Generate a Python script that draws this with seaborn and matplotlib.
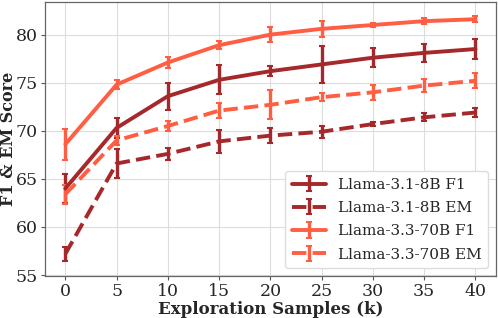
import matplotlib
matplotlib.use("Agg")
import matplotlib.pyplot as plt
import seaborn as sns

samples = [0, 5, 10, 15, 20, 25, 30, 35, 40]

f1_8b = [64.0, 70.3, 73.6, 75.3, 76.2, 76.9, 77.6, 78.1, 78.5]
f1_8b_err = [1.5, 1.0, 1.4, 1.5, 0.5, 1.9, 1.0, 0.9, 1.0]
em_8b = [57.2, 66.6, 67.6, 68.9, 69.5, 69.9, 70.7, 71.4, 71.9]
em_8b_err = [0.7, 1.5, 0.6, 1.2, 0.8, 0.6, 0.2, 0.4, 0.5]
f1_70b = [68.6, 74.8, 77.1, 78.9, 80.0, 80.6, 81.0, 81.4, 81.6]
f1_70b_err = [1.6, 0.5, 0.6, 0.4, 0.8, 0.8, 0.2, 0.3, 0.3]
em_70b = [63.4, 69.0, 70.5, 72.1, 72.7, 73.5, 74.0, 74.7, 75.2]
em_70b_err = [1.0, 0.5, 0.5, 0.8, 1.5, 0.4, 0.8, 0.7, 0.8]

series = [
    ("Llama-3.1-8B F1", f1_8b, f1_8b_err, "#a5282b", "-"),
    ("Llama-3.1-8B EM", em_8b, em_8b_err, "#a5282b", "--"),
    ("Llama-3.3-70B F1", f1_70b, f1_70b_err, "#ff5e43", "-"),
    ("Llama-3.3-70B EM", em_70b, em_70b_err, "#ff5e43", "--"),
]

sns.set_theme(style="whitegrid")
plt.rcParams["font.family"] = ["DejaVu Serif"]

fig, ax = plt.subplots(figsize=(4.98, 3.18), dpi=100)
for label, vals, errs, color, ls in series:
    ax.errorbar(samples, vals, yerr=errs, label=label, color=color, linestyle=ls,
                linewidth=2.8, elinewidth=2.4, capsize=2.5, capthick=1.5)

ax.set_xlim(-2, 42)
ax.set_ylim(54.9, 83.4)
ax.set_xticks(range(0, 41, 5))
ax.set_yticks(range(55, 81, 5))
ax.tick_params(axis="both", labelsize=12.5, length=3, width=0.8, color="#555555",
               bottom=True, left=True, pad=2)
ax.set_xlabel("Exploration Samples (k)", fontsize=12, fontweight="bold", labelpad=1)
ax.set_ylabel("F1 & EM Score", fontsize=11.5, fontweight="bold")
ax.yaxis.set_label_coords(-0.062, 0.5)
ax.grid(color="#dddddd", linewidth=0.8)
for s in ax.spines.values():
    s.set_color("#666666")
    s.set_linewidth(0.9)

ax.legend(loc="lower right", fontsize=11, frameon=True, edgecolor="#dddddd",
          handlelength=2.2, borderpad=0.45, labelspacing=0.6, framealpha=1,
          borderaxespad=0.5)

plt.subplots_adjust(left=0.09, right=0.996, top=0.994, bottom=0.132)
plt.savefig("out.png", dpi=100)
plt.close()
